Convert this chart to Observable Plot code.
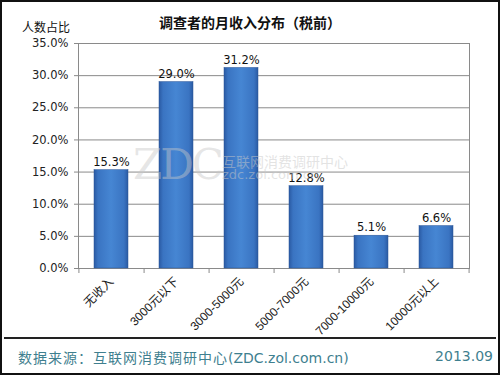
<!DOCTYPE html>
<html><head><meta charset="utf-8">
<script src="https://cdn.jsdelivr.net/npm/d3@7"></script>
<script src="https://cdn.jsdelivr.net/npm/@observablehq/plot@0.6"></script>
<style>
body{margin:0;background:#fff;}
#wrap{position:relative;width:500px;height:375px;overflow:hidden;background:#fff;font-family:"DejaVu Sans","Noto Sans CJK SC",sans-serif;}
#chart{position:absolute;left:0;top:0;}
.abs{position:absolute;white-space:nowrap;}
#border{position:absolute;left:0;top:0;width:500px;height:375px;box-sizing:border-box;border:2px solid #111;pointer-events:none;}
</style></head>
<body>
<div id="wrap">
  <div id="chart"></div>
  <div class="abs" id="title" style="left:0;width:500px;text-align:center;top:12px;font:bold 14px 'Noto Sans CJK SC',sans-serif;color:#111;">调查者的月收入分布（税前）</div>
  <div class="abs" style="left:22px;top:18px;font:12px 'Noto Sans CJK SC',sans-serif;color:#111;">人数占比</div>
  <div class="abs" style="left:133px;top:140px;font:42px 'DejaVu Serif',serif;letter-spacing:-2px;color:rgba(200,200,200,0.45);">ZDC</div>
  <div class="abs" style="left:222px;top:151px;font:14px 'Noto Sans CJK SC',sans-serif;color:rgba(200,200,200,0.5);">互联网消费调研中心</div>
  <div class="abs" style="left:222px;top:167px;font:13px 'DejaVu Sans',sans-serif;color:rgba(200,200,200,0.5);">zdc.zol.com.cn</div>
  <div class="abs" style="left:4px;top:337px;width:492px;height:0;border-top:2px solid #222;"></div>
  <div class="abs" style="left:18px;top:347px;font:14px 'Noto Sans CJK SC',sans-serif;color:#3f7f8f;"><span style="letter-spacing:1px;">数据来源：互联网消费调研中心</span><span style="font-family:'DejaVu Sans',sans-serif;">(ZDC.zol.com.cn)</span></div>
  <div class="abs" style="right:7px;top:348px;font:14px 'DejaVu Sans',sans-serif;color:#3f7f8f;">2013.09</div>
  <div id="border"></div>
</div>
<script>
const categories = ["无收入","3000元以下","3000-5000元","5000-7000元","7000-10000元","10000元以上"];
const values = [15.3, 29.0, 31.2, 12.8, 5.1, 6.6];
const yTicks = [0,5,10,15,20,25,30,35];
const data = categories.map((c,i)=>({cat:c, v:values[i]}));

const W = 500, H = 345, mL = 78, mR = 31, mT = 43, mB = 77;
const step = (W - mL - mR) / categories.length;

const plot = Plot.plot({
  width: W, height: H,
  marginLeft: mL, marginRight: mR, marginTop: mT, marginBottom: mB,
  style: {fontFamily: "'DejaVu Sans','Noto Sans CJK SC',sans-serif", fontSize: "11px", color: "#111", background: "transparent"},
  x: {domain: categories, paddingInner: 0.48, paddingOuter: 0.24, label: null},
  y: {domain: [0, 35], label: null},
  marks: [
    Plot.gridY(yTicks, {stroke: "#8a8a8a", strokeOpacity: 1}),
    Plot.frame({stroke: "#8a8a8a"}),
    Plot.barY(data, {x: "cat", y: "v", fill: "url(#barGrad)", stroke: "#2a5596", strokeWidth: 0.5}),
    Plot.text(data, {x: "cat", y: "v", text: d => d.v.toFixed(1) + "%", dy: -8, fontSize: 11.5, fill: "#111"}),
    Plot.axisY(yTicks, {tickFormat: d => d.toFixed(1) + "%", tickSize: 4, tickPadding: 6, stroke: "#8a8a8a", fill: "#222", fontSize: 11.5}),
    Plot.axisX({tickSize: 0, tickRotate: -45, tickPadding: 11, fontSize: 12, fill: "#222", fontFamily: "'Liberation Sans','Noto Sans CJK SC',sans-serif"}),
    Plot.ruleX(categories, {x: d => d, y1: 0, y2: 0, insetTop: 5, dx: step/2, stroke: "#8a8a8a"}),
    Plot.ruleX([categories[0]], {x: d => d, y1: 0, y2: 0, insetTop: 5, dx: -step/2, stroke: "#8a8a8a"})
  ]
});

const ns = "http://www.w3.org/2000/svg";
const defs = document.createElementNS(ns, "defs");
const lg = document.createElementNS(ns, "linearGradient");
lg.setAttribute("id", "barGrad");
lg.setAttribute("x1", "0"); lg.setAttribute("x2", "1"); lg.setAttribute("y1", "0"); lg.setAttribute("y2", "0");
[["0", "#2a5aa3"], ["0.12", "#3a74c2"], ["0.5", "#4686d3"], ["0.88", "#3a74c2"], ["1", "#2a5aa3"]].forEach(([o, c]) => {
  const s = document.createElementNS(ns, "stop");
  s.setAttribute("offset", o); s.setAttribute("stop-color", c);
  lg.appendChild(s);
});
defs.appendChild(lg);
plot.insertBefore(defs, plot.firstChild);
document.getElementById("chart").appendChild(plot);
</script>
</body></html>
